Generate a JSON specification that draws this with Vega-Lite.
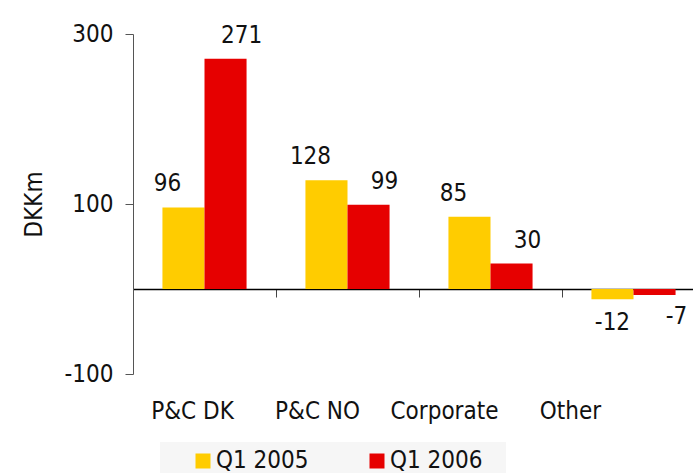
{
  "$schema": "https://vega.github.io/schema/vega-lite/v6.json",
  "width": 560,
  "height": 340,
  "autosize": {"type": "none"},
  "padding": {"left": 133, "top": 34, "right": 0, "bottom": 99},
  "background": "white",
  "config": {
    "view": {"stroke": null},
    "font": "DejaVu Sans Condensed",
    "locale": {"number": {"decimal": ".", "thousands": ",", "grouping": [3], "currency": ["", ""], "minus": "-"}},
    "text": {"font": "DejaVu Sans Condensed", "fontSize": 24, "color": "#111111"},
    "axis": {"labelFont": "DejaVu Sans Condensed", "titleFont": "DejaVu Sans Condensed", "labelColor": "#111111", "titleColor": "#111111"},
    "legend": {"labelFont": "DejaVu Sans Condensed"}
  },
  "data": {
    "values": [
      {"segment": "P&C DK", "series": "Q1 2005", "value": 96},
      {"segment": "P&C DK", "series": "Q1 2006", "value": 271},
      {"segment": "P&C NO", "series": "Q1 2005", "value": 128},
      {"segment": "P&C NO", "series": "Q1 2006", "value": 99},
      {"segment": "Corporate", "series": "Q1 2005", "value": 85},
      {"segment": "Corporate", "series": "Q1 2006", "value": 30},
      {"segment": "Other", "series": "Q1 2005", "value": -12},
      {"segment": "Other", "series": "Q1 2006", "value": -7}
    ]
  },
  "encoding": {
    "xOffset": {"field": "series", "type": "nominal", "scale": {"paddingInner": 0, "paddingOuter": 0.7}},
    "y": {
      "field": "value",
      "type": "quantitative",
      "scale": {"domain": [-100, 300], "nice": false, "zero": false},
      "axis": {
        "values": [-100, 100, 300],
        "title": "DKKm",
        "titleFontSize": 24,
        "titleFontWeight": "normal",
        "titlePadding": 18,
        "labelFontSize": 24,
        "labelPadding": 12,
        "tickSize": 8,
        "tickColor": "#555555",
        "domainColor": "#555555",
        "grid": false
      }
    }
  },
  "layer": [
    {
      "mark": {"type": "bar", "stroke": null},
      "encoding": {
        "x": {
          "field": "segment",
          "type": "nominal",
          "sort": ["P&C DK", "P&C NO", "Corporate", "Other"],
          "scale": {"range": [0, 572], "paddingInner": 0, "paddingOuter": 0},
          "axis": {
            "orient": "bottom",
            "offset": -85,
            "title": null,
            "labels": false,
            "domainColor": "#000000",
            "domainWidth": 1.3,
            "ticks": true,
            "tickBand": "extent",
            "tickSize": 8,
            "tickColor": "#444444",
            "grid": false
          }
        },
        "color": {
          "field": "series",
          "type": "nominal",
          "scale": {"domain": ["Q1 2005", "Q1 2006"], "range": ["#FFCC00", "#E60000"]},
          "legend": {
            "orient": "none",
            "legendX": 27,
            "legendY": 408,
            "direction": "horizontal",
            "title": null,
            "fillColor": "#f6f6f6",
            "padding": 7,
            "symbolType": "square",
            "symbolSize": 225,
            "symbolStrokeWidth": 0,
            "symbolOffset": 24,
            "labelFontSize": 24,
            "labelColor": "#111111",
            "labelOffset": 1,
            "columnPadding": 16,
            "labelExpr": "datum.label + '\u2800'"
          }
        }
      }
    },
    {
      "transform": [{"filter": "datum.series == 'Q1 2005' && datum.value >= 0"}],
      "mark": {"type": "text", "baseline": "alphabetic", "dy": -16, "dx": -16},
      "encoding": {
        "x": {
          "field": "segment",
          "type": "nominal",
          "sort": ["P&C DK", "P&C NO", "Corporate", "Other"],
          "axis": {
            "orient": "bottom",
            "title": null,
            "domain": false,
            "ticks": false,
            "grid": false,
            "labelAngle": 0,
            "labelFontSize": 24,
            "labelPadding": 25,
            "labelOffset": {"expr": "datum.value == 'P&C DK' ? -12 : datum.value == 'P&C NO' ? -30 : datum.value == 'Corporate' ? -46 : -63"}
          }
        },
        "text": {"field": "value", "type": "quantitative"}
      }
    },
    {
      "transform": [{"filter": "datum.series == 'Q1 2006' && datum.value >= 0"}],
      "mark": {"type": "text", "baseline": "alphabetic", "dy": -16, "dx": 16},
      "encoding": {
        "x": {"field": "segment", "type": "nominal", "sort": ["P&C DK", "P&C NO", "Corporate", "Other"], "axis": null},
        "text": {"field": "value", "type": "quantitative"}
      }
    },
    {
      "transform": [{"filter": "datum.series == 'Q1 2005' && datum.value < 0"}],
      "mark": {"type": "text", "baseline": "alphabetic", "dy": 31, "dx": 0},
      "encoding": {
        "x": {"field": "segment", "type": "nominal", "sort": ["P&C DK", "P&C NO", "Corporate", "Other"], "axis": null},
        "text": {"field": "value", "type": "quantitative"}
      }
    },
    {
      "transform": [{"filter": "datum.series == 'Q1 2006' && datum.value < 0"}],
      "mark": {"type": "text", "baseline": "alphabetic", "dy": 29, "dx": 22},
      "encoding": {
        "x": {"field": "segment", "type": "nominal", "sort": ["P&C DK", "P&C NO", "Corporate", "Other"], "axis": null},
        "text": {"field": "value", "type": "quantitative"}
      }
    }
  ],
  "resolve": {"axis": {"x": "independent"}}
}
